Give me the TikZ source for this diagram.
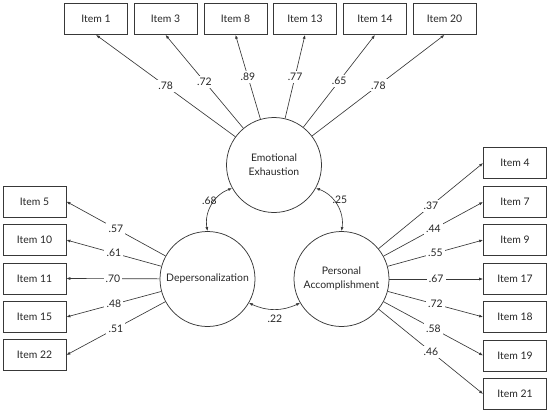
\documentclass[tikz,border=0pt]{standalone}
\usepackage{fontspec}
\setmainfont{Lato}
\usetikzlibrary{arrows.meta}
\definecolor{ln}{HTML}{383838}
\definecolor{txt}{HTML}{262626}
\begin{document}
\begin{tikzpicture}[x=1pt,y=-1pt,
  every node/.style={text=txt, font=\fontsize{10.4}{14}\selectfont},
  item/.style={draw=ln, line width=0.75pt, minimum width=63pt, minimum height=31pt, inner sep=0pt},
  latent/.style={draw=ln, line width=0.75pt, circle, minimum size=95pt, inner sep=0pt, align=center},
  load/.style={draw=ln, line width=0.65pt, -{Latex[length=4pt,width=3pt]}},
  cov/.style={draw=ln, line width=0.65pt, {Latex[length=4pt,width=3pt]}-{Latex[length=4pt,width=3pt]}},
  lbl/.style={fill=white, inner sep=2.2pt},
]
\useasboundingbox (0,0) rectangle (550,413);
% latent variables
\node[latent] (ee) at (274,165) {Emotional\\Exhaustion};
\node[latent] (dp) at (207.5,279) {Depersonalization};
\node[latent] (pa) at (341.5,279) {Personal\\Accomplishment};
% top items
\node[item] (i1)  at (96,19)    {Item 1};
\node[item] (i3)  at (165.5,19) {Item 3};
\node[item] (i8)  at (235.5,19) {Item 8};
\node[item] (i13) at (305,19)   {Item 13};
\node[item] (i14) at (375,19)   {Item 14};
\node[item] (i20) at (444.5,19) {Item 20};
% left items
\node[item] (i5)  at (34.5,201.5) {Item 5};
\node[item] (i10) at (34.5,240)   {Item 10};
\node[item] (i11) at (34.5,278.5) {Item 11};
\node[item] (i15) at (34.5,317)   {Item 15};
\node[item] (i22) at (34.5,355)   {Item 22};
% right items
\node[item] (i4)  at (515,163) {Item 4};
\node[item] (i7)  at (515,202) {Item 7};
\node[item] (i9)  at (515,240) {Item 9};
\node[item] (i17) at (515,279) {Item 17};
\node[item] (i18) at (515,317) {Item 18};
\node[item] (i19) at (515,355.5) {Item 19};
\node[item] (i21) at (515,394) {Item 21};
% loadings EE
\draw[load] (ee) -- node[lbl]{.78} (i1.south);
\draw[load] (ee) -- node[lbl]{.72} (i3.south);
\draw[load] (ee) -- node[lbl]{.89} (i8.south);
\draw[load] (ee) -- node[lbl]{.77} (i13.south);
\draw[load] (ee) -- node[lbl]{.65} (i14.south);
\draw[load] (ee) -- node[lbl]{.78} (i20.south);
% loadings DP
\draw[load] (dp) -- node[lbl]{.57} (i5.east);
\draw[load] (dp) -- node[lbl]{.61} (i10.east);
\draw[load] (dp) -- node[lbl]{.70} (i11.east);
\draw[load] (dp) -- node[lbl]{.48} (i15.east);
\draw[load] (dp) -- node[lbl]{.51} (i22.east);
% loadings PA
\draw[load] (pa) -- node[lbl]{.37} (i4.west);
\draw[load] (pa) -- node[lbl]{.44} (i7.west);
\draw[load] (pa) -- node[lbl]{.55} (i9.west);
\draw[load] (pa) -- node[lbl]{.67} (i17.west);
\draw[load] (pa) -- node[lbl]{.72} (i18.west);
\draw[load] (pa) -- node[lbl]{.58} (i19.west);
\draw[load] (pa) -- node[lbl]{.46} (i21.west);
% covariances
\draw[cov] (ee.209) to[bend right=40] (dp.90);
\draw[cov] (ee.331) to[bend left=40] (pa.90);
\draw[cov] (dp.330) to[bend right=25] (pa.210);
\node (c68) at (209.5,201) {.68};
\node (c25) at (340,200) {.25};
\node (c22) at (275,319) {.22};
\end{tikzpicture}
\end{document}
